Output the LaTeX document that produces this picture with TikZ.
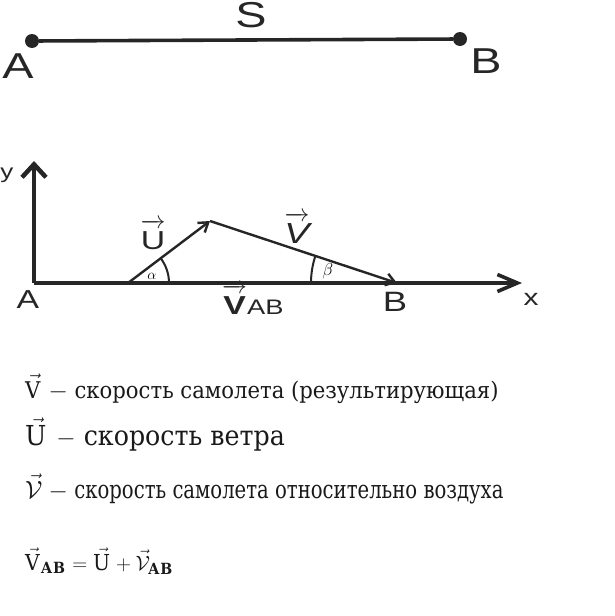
\documentclass[tikz,border=0pt]{standalone}
\usepackage{amsmath}
\usepackage{fontspec}
\setmainfont[FakeStretch=0.92]{DejaVu Serif}
\setsansfont[FakeStretch=1.3]{Liberation Sans}
\newfontfamily\condserif[FakeStretch=0.785]{DejaVu Serif}
\usepackage{tikz}
\usetikzlibrary{arrows.meta}
\usetikzlibrary{positioning}
\tikzset{
  mydot/.style={
    circle,
    fill=black!85,
    inner sep=0pt,
    minimum size=14pt,
  },
  mysegment/.style={
    draw=black!85,
    line width=3.6pt,
  },
  myaxis/.style={
    draw=black!85,
    line width=4.5pt,
  },
  myvector/.style={
    draw=black!85,
    line width=2.4pt,
    -{Straight Barb[length=9pt,width=12pt]},
  },
  myangle/.style={
    draw=black!85,
    line width=2pt,
  },
  bigletter/.style={
    text=black!85,
    inner sep=0pt,
    font=\sffamily\fontsize{36}{36}\selectfont,
  },
  axisletter/.style={
    text=black!85,
    inner sep=0pt,
    font=\sffamily\fontsize{26}{26}\selectfont,
  },
  mytext/.style={
    text=black!90,
    anchor=base west,
    inner sep=0pt,
    font=\fontsize{23}{23}\selectfont,
  },
}

\begin{document}
\begin{tikzpicture}[x=1pt,y=1pt]
    \useasboundingbox (0,0) rectangle (614,-616);

    % distance S
    \node[mydot] (pointA) at (32,-41) {};
    \node[mydot] (pointB) at (460,-39) {};
    \draw[mysegment] (pointA) -- (pointB);
    \node[bigletter] (labelS) at (251,-15) {S};
    \node[bigletter] (labelAtop) at (18,-66) {A};
    \node[bigletter] (labelBtop) at (486,-61) {B};

    % axes and vectors
    \coordinate (origin) at (34,-283);
    \coordinate (yend) at (34,-161);
    \coordinate (xend) at (522,-283);
    \coordinate (Ustart) at (128,-283);
    \coordinate (Utip) at (210,-221);
    \coordinate (Vtip) at (397,-283);

    \draw[myaxis, -{Straight Barb[length=13pt,width=24pt]}] (origin) -- (yend);
    \draw[myaxis, line width=3.6pt, -{Straight Barb[length=20pt,width=17pt]}] (origin) -- (xend);
    \draw[myvector] (Ustart) -- (Utip);
    \draw[myvector] (Utip) -- (Vtip);
    \draw[myangle] ([shift={(0:41)}]Ustart) arc[start angle=0, end angle=37, radius=41];
    \draw[myangle] ([shift={(161.7:86)}]Vtip) arc[start angle=161.7, end angle=180, radius=86];
    \node[inner sep=0pt, font=\fontsize{15}{15}\selectfont] (alpha) at (152,-276) {$\alpha$};
    \node[inner sep=0pt, font=\fontsize{16}{16}\selectfont] (beta) at (328,-271) {$\beta$};

    \node[axisletter] (labelA) at (28,-300) {A};
    \node[axisletter, font=\sffamily\fontsize{28}{28}\selectfont] (labelB) at (395,-302) {B};
    \node[axisletter, font=\sffamily\fontsize{20}{20}\selectfont] (labely) at (7,-175) {y};
    \node[axisletter, font=\sffamily\fontsize{23}{23}\selectfont] (labelx) at (531,-299) {x};
    \node[axisletter, anchor=base] (labelU) at (153,-249) {$\overrightarrow{\textsf{U}\rule{0pt}{0.8em}}$};
    \node[axisletter, anchor=base, font=\sffamily\fontsize{29}{29}\selectfont] (labelV) at (297,-243) {$\overrightarrow{\textsf{\itshape V}\rule{0pt}{0.75em}}$};
    \node[axisletter, anchor=base west] (labelVAB) at (222,-314) {$\overrightarrow{\textsf{\bfseries V}\rule{0pt}{0.8em}}$\fontsize{21}{21}\selectfont AB};

    % legend
    \node[mytext] (line1) at (25,-398) {$\vec{\mathrm{V}}$ $-$ скорость самолета (результирующая)};
    \node[mytext, font=\fontsize{27.5}{27.5}\selectfont] (line2) at (25,-445) {$\vec{\mathrm{U}}$ $-$ скорость ветра};
    \node[mytext, font=\condserif\fontsize{25}{25}\selectfont] (line3) at (25,-498) {$\vec{\mathcal{V}}$ $-$ скорость самолета относительно воздуха};
    \node[mytext, font=\fontsize{22}{22}\selectfont] (line4) at (25,-570) {$\vec{\mathrm{V}}_{\mathbf{AB}} = \vec{\mathrm{U}} + \vec{\mathcal{V}}_{\mathbf{AB}}$};
\end{tikzpicture}
\end{document}
